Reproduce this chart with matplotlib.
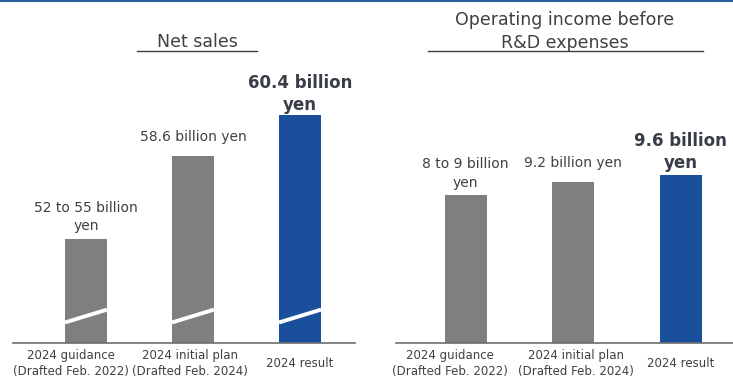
import matplotlib.pyplot as plt
from matplotlib.lines import Line2D

categories = ["2024 guidance\n(Drafted Feb. 2022)",
              "2024 initial plan\n(Drafted Feb. 2024)",
              "2024 result"]

# billion yen (guidance ranges drawn at their representative value)
sales_values = [55.0, 58.6, 60.4]
sales_labels = ["52 to 55 billion\nyen", "58.6 billion yen", "60.4 billion\nyen"]

income_values = [8.5, 9.2, 9.6]
income_labels = ["8 to 9 billion\nyen", "9.2 billion yen", "9.6 billion\nyen"]

GRAY = "#7f7f7f"
BLUE = "#1a4f9c"
TEXT = "#404040"
BOLD_TEXT = "#383d47"
AXIS = "#6e6e6e"

W, H = 733, 378
fig = plt.figure(figsize=(W / 100, H / 100), dpi=100)
fig.patch.set_facecolor("white")


def add_panel(x0, x1, ytop, ybase):
    return fig.add_axes([x0 / W, 1 - ybase / H, (x1 - x0) / W, (ybase - ytop) / H])


def style_axis(ax, xlim, shifts):
    for side in ("left", "right", "top"):
        ax.spines[side].set_visible(False)
    ax.spines["bottom"].set_color(AXIS)
    ax.spines["bottom"].set_linewidth(1.2)
    ax.set_yticks([])
    ax.set_xticks([])
    ax.set_xlim(*xlim)
    ax.set_facecolor("none")
    # category names under the baseline (text boxes sit slightly left of bars)
    for i, (name, dx) in enumerate(zip(categories, shifts)):
        ax.annotate(name, (i, 0), xycoords=ax.get_xaxis_transform(),
                    xytext=(dx, -15.2), textcoords="offset points",
                    ha="center", va="center", fontsize=8.5, color=TEXT,
                    linespacing=1.25, annotation_clip=False)


def label_bars(ax, values, labels, pads, spacing):
    for i, (v, t, p) in enumerate(zip(values, labels, pads)):
        last = i == len(values) - 1
        ax.annotate(t, (i, v), xytext=(0, p), textcoords="offset points",
                    ha="center", va="bottom", linespacing=spacing[last],
                    fontsize=12 if last else 10,
                    fontweight="bold" if last else "normal",
                    color=BOLD_TEXT if last else TEXT)


colors = [GRAY, GRAY, BLUE]
x = list(range(len(categories)))

# Net sales (axis starts above zero, marked with break lines)
ax1 = add_panel(13, 355, 15, 342.5)
bw1 = 0.393
ax1.bar(x, sales_values, width=bw1, color=colors)
ax1.set_ylim(50.5, 64.74)
style_axis(ax1, (-0.682, 2.514), (-11, -2.5, 0))
for xi in x:
    ax1.plot([xi - bw1 / 2, xi + bw1 / 2], [51.37, 51.93], color="white",
             lw=2.8, solid_capstyle="butt")
label_bars(ax1, sales_values, sales_labels, [4.5, 8.9, 0.5], (1.3, 1.32))

# Operating income before R&D expenses
ax2 = add_panel(396, 733, 15, 342.5)
bw2 = 0.39
ax2.bar(x, income_values, width=bw2, color=colors)
ax2.set_ylim(0, 18.82)
style_axis(ax2, (-0.647, 2.488), (-11, 2, 0))
label_bars(ax2, income_values, income_labels, [3.5, 8.6, 2.6], (1.45, 1.28))

# panel titles with underlines
fig.text(197 / W, 1 - 42 / H, "Net sales", ha="center", va="center",
         fontsize=12.5, color=TEXT)
fig.add_artist(Line2D([137 / W, 257 / W], [1 - 51 / H] * 2, color=TEXT, lw=1))
fig.text(565 / W, 1 - 31.5 / H, "Operating income before\nR&D expenses",
         ha="center", va="center", fontsize=12.5, color=TEXT, linespacing=1.42)
fig.add_artist(Line2D([428 / W, 703 / W], [1 - 51 / H] * 2, color=TEXT, lw=1))

# blue rule along the top edge
fig.add_artist(Line2D([0, 1], [1 - 1 / H] * 2, color="#2f5f98", lw=1.5))

fig.savefig("out.png", dpi=100, facecolor="white")
